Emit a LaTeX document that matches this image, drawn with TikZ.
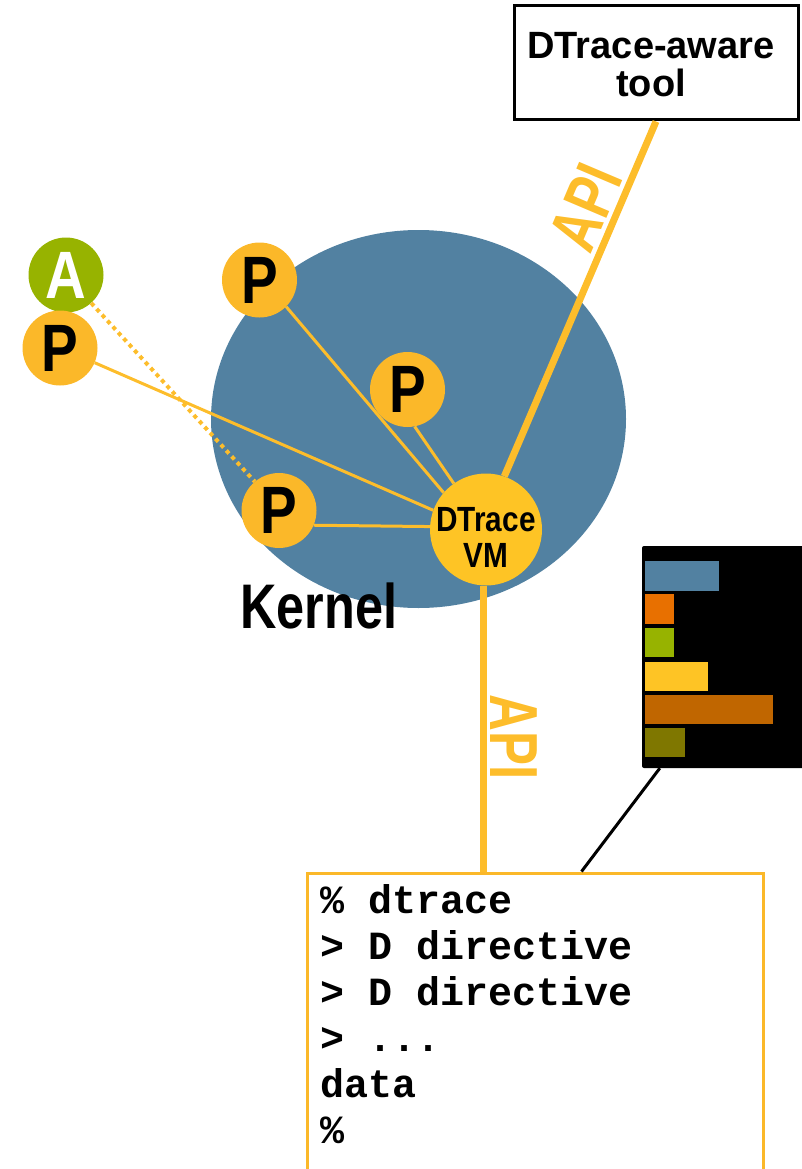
\documentclass[tikz,border=0pt]{standalone}
\usepackage{fontspec}
\setmainfont{Liberation Sans}
\newfontfamily\codefont{Liberation Mono}
\usepackage{graphicx}
\usetikzlibrary{shapes.geometric}
\definecolor{kblue}{HTML}{5281A1}
\definecolor{pyellow}{HTML}{FBB829}
\definecolor{vmyellow}{HTML}{FEC425}
\definecolor{lyellow}{HTML}{FDBD2B}
\definecolor{agreen}{HTML}{97B300}
\definecolor{barorange}{HTML}{E87000}
\definecolor{barbrown}{HTML}{C06600}
\definecolor{barolive}{HTML}{7F7700}
\newcommand{\sx}[2]{\scalebox{#1}[1]{#2}}
\begin{document}
\begin{tikzpicture}[x=1pt,y=-1pt,
  kernelshape/.style={ellipse, fill=kblue, minimum width=415pt, minimum height=378pt, inner sep=0pt},
  pcirc/.style={circle, fill=pyellow, minimum size=75pt, inner sep=0pt, font=\fontsize{67}{67}\selectfont\bfseries},
  acirc/.style={circle, fill=agreen, text=white, minimum size=75pt, inner sep=0pt, font=\fontsize{67}{67}\selectfont\bfseries},
  vmcirc/.style={circle, fill=vmyellow, minimum size=112pt, inner sep=0pt},
  vmtext/.style={align=center, inner sep=0pt, font=\fontsize{35}{36}\selectfont\bfseries},
  link/.style={draw=lyellow, line width=3pt},
  dotlink/.style={draw=lyellow, line width=4pt, dash pattern=on 4pt off 4pt},
  apiline/.style={draw=lyellow, line width=7pt},
  apilabel/.style={text=lyellow, inner sep=4pt, font=\fontsize{68}{68}\selectfont\bfseries},
  toolbox/.style={draw=black, line width=3pt, minimum width=284pt, minimum height=114pt, inner sep=0pt},
  tooltext/.style={align=center, inner sep=0pt, font=\fontsize{38}{38}\selectfont\bfseries},
  codeframe/.style={draw=pyellow, line width=3pt, fill=white, minimum width=456pt, minimum height=327pt, inner sep=0pt},
  codetext/.style={anchor=north west, align=left, inner sep=0pt, font=\codefont\bfseries\fontsize{40}{46}\selectfont},
  chartbox/.style={fill=black, rounded corners=2pt, minimum width=173pt, minimum height=222pt, inner sep=0pt},
  pointer/.style={draw=black, line width=3pt}
]
\useasboundingbox (0,0) rectangle (802,1169);

% kernel region
\node[kernelshape] (kernel) at (418.5,419) {};
\node[anchor=base, inner sep=0pt, font=\fontsize{63}{63}\selectfont\bfseries] (kernellabel) at (319,628) {\sx{0.8}{Kernel}};

% tool box
\node[toolbox] (tool) at (656,63) {};
\node[tooltext] (tooltxt) at (651,64.5) {DTrace-aware\\tool};

% code box
\node[codeframe] (codebox) at (535,1036.5) {};
\node[codetext] (code) at (320,883) {\rule{0pt}{30pt}\% dtrace\\> D directive\\> D directive\\> ...\\data\\\%};

% chart
\node[chartbox] (chart) at (728.5,657) {};
\fill[kblue] (645,561) rectangle (719,591);
\fill[barorange] (645,594) rectangle (674,624);
\fill[agreen] (645,628) rectangle (674,657);
\fill[vmyellow] (645,662) rectangle (708,691);
\fill[barbrown] (645,695) rectangle (773,724);
\fill[barolive] (645,728) rectangle (685,757);

% circles
\node[vmcirc] (vm) at (486,529.5) {};
\node[vmtext] (vmlabel) at (486,537.5) {\sx{0.85}{DTrace}\\\sx{0.85}{VM}};
\node[pcirc] (p1) at (259.5,280) {\sx{0.82}{P}};
\node[pcirc] (pmid) at (407.5,389.5) {\sx{0.82}{P}};
\node[pcirc] (plow) at (279,510.5) {\sx{0.82}{P}};
\node[acirc] (a) at (66,275) {\sx{0.84}{A}};
\node[pcirc] (pleft) at (60,348) {\sx{0.82}{P}};

% links
\draw[link] (p1.-45.5) -- (vm.139);
\draw[link] (pmid.-79) -- (vm.125.4);
\draw[link] (pleft.-23.5) -- (vm.160);
\draw[link] (plow.-23) -- (vm.177.4);
\draw[dotlink] (a.-48.7) -- (plow.130.5);

% API lines
\draw[apiline] (vm.71) -- node[apilabel, pos=0.725, rotate=67, anchor=south] (apitop) {\sx{0.75}{API}} (tool.south);
\draw[apiline] ([xshift=-3pt]vm.south) -- node[apilabel, pos=0.53, rotate=-90, anchor=south] (apibot) {\sx{0.75}{API}} ([xshift=-3pt]vm.south |- codebox.north);

% pointer from chart to code
\draw[pointer] ([xshift=18pt]chart.south west) -- ([xshift=276pt]codebox.north west);
\end{tikzpicture}
\end{document}
